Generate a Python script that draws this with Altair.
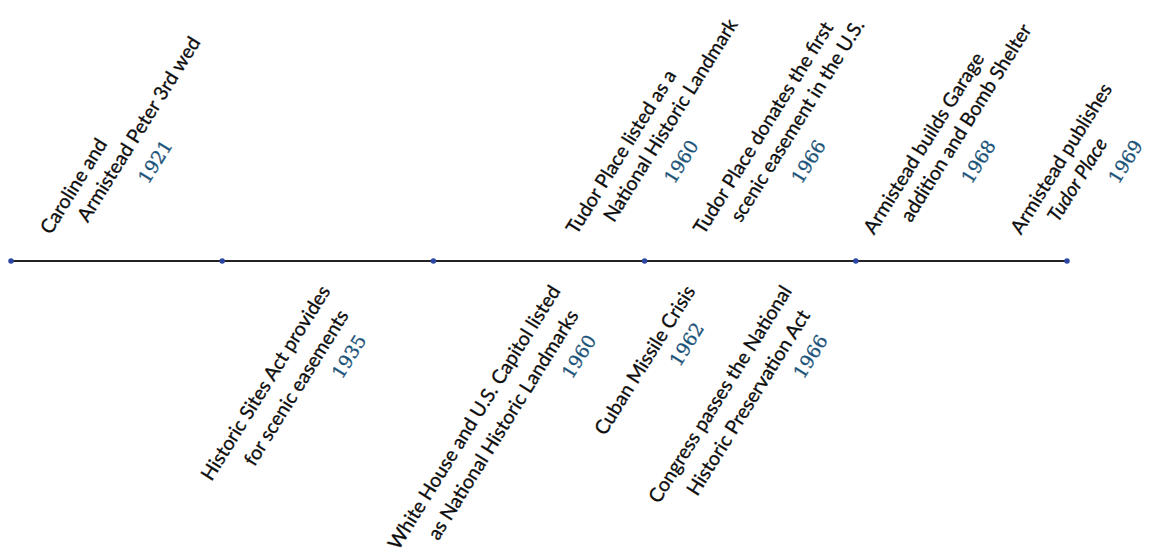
import altair as alt
import pandas as pd

# ---- data ----
years = ["1921", "1935", "1960", "1960", "1962", "1966", "1966", "1968", "1969"]
line1 = [
    "Caroline and",
    "Historic Sites Act provides",
    "Tudor Place listed as a",
    "White House and U.S. Capitol listed",
    "Cuban Missile Crisis",
    "Tudor Place donates the first",
    "Congress passes the National",
    "Armistead builds Garage",
    "Armistead publishes",
]
line2 = [
    "Armistead Peter 3rd wed",
    "for scenic easements",
    "National Historic Landmark",
    "as National Historic Landmarks",
    "",
    "scenic easement in the U.S.",
    "Historic Preservation Act",
    "addition and Bomb Shelter",
    "Tudor Place",
]
line2_italic = [False, False, False, False, False, False, False, False, True]
side = ["above", "below", "above", "below", "below", "above", "below", "above", "above"]
# position of each label along the timeline (in timeline-marker units)
pos = [0.188, 1.515, 2.679, 2.604, 3.243, 3.281, 3.70, 4.086, 4.782]
markers = [0, 1, 2, 3, 4, 5]

events = pd.DataFrame({
    "year": years, "l1": line1, "l2": line2, "ital": line2_italic,
    "side": side, "pos": pos,
})
events["nl"] = [2 if s else 1 for s in line2]
events["base"] = 0
marks_df = pd.DataFrame({"pos": markers, "base": [0] * len(markers)})

W, H = 1056, 540
LINE_Y = 253
xs = alt.Scale(domain=[0, 5], nice=False, zero=False)
ys = alt.Scale(domain=[-(H - LINE_Y), LINE_Y], nice=False, zero=False)

X = alt.X("pos:Q", scale=xs, axis=None)
Y = alt.Y("base:Q", scale=ys, axis=None)

FONT = "Lato"
YFONT = "DejaVu Serif"
FS = 19.6
YFS = 18.5
ANG = 302
TXT = "#0d0d0d"
YCOL = "#1b5379"

timeline = alt.Chart(marks_df).mark_line(color="#222222", strokeWidth=2).encode(x=X, y=Y)
dots = alt.Chart(marks_df).mark_circle(color="#2b46a3", size=30, opacity=1).encode(x=X, y=Y)

ev = alt.Chart(events)
above = ev.transform_filter(alt.datum.side == "above")
below = ev.transform_filter(alt.datum.side == "below")


def txt(chart, field, align, dx, dy, font=FONT, size=FS, color=TXT, style="normal", baseline="alphabetic"):
    return chart.mark_text(
        align=align, baseline=baseline, angle=ANG, dx=dx, dy=dy,
        font=font, fontSize=size, color=color, fontStyle=style,
        stroke=color, strokeWidth=0.3,
    ).encode(x=X, y=Y, text=f"{field}:N")


layers = [
    timeline, dots,
    # above the line
    txt(above, "l1", "left", 21.6, -13.5),
    txt(above.transform_filter(alt.datum.ital == False), "l2", "left", 51.6, 11.5),
    txt(above.transform_filter(alt.datum.ital == True), "l2", "left", 51.6, 11.5, style="italic"),
    txt(above, "year", "center", 139.6, 36.5, font=YFONT, size=YFS, color=YCOL, baseline="middle"),
    # below the line
    txt(below, "l1", "right", -25.4, 15.9),
    txt(below.transform_filter(alt.datum.nl == 2), "l2", "right", -36.4, 44.4),
    txt(below.transform_filter(alt.datum.nl == 2), "year", "center", -71.4, 66.4,
        font=YFONT, size=YFS, color=YCOL, baseline="middle"),
    txt(below.transform_filter(alt.datum.nl == 1), "year", "center", -75.4, 36.9,
        font=YFONT, size=YFS, color=YCOL, baseline="middle"),
]

chart = alt.layer(*layers).properties(
    width=W, height=H,
    autosize=alt.AutoSizeParams(type="none"),
    padding={"left": 3, "right": 78, "top": 0, "bottom": 0},
).configure_view(stroke=None)

chart.save("out.html", embed_options={"renderer": "svg", "actions": False})
